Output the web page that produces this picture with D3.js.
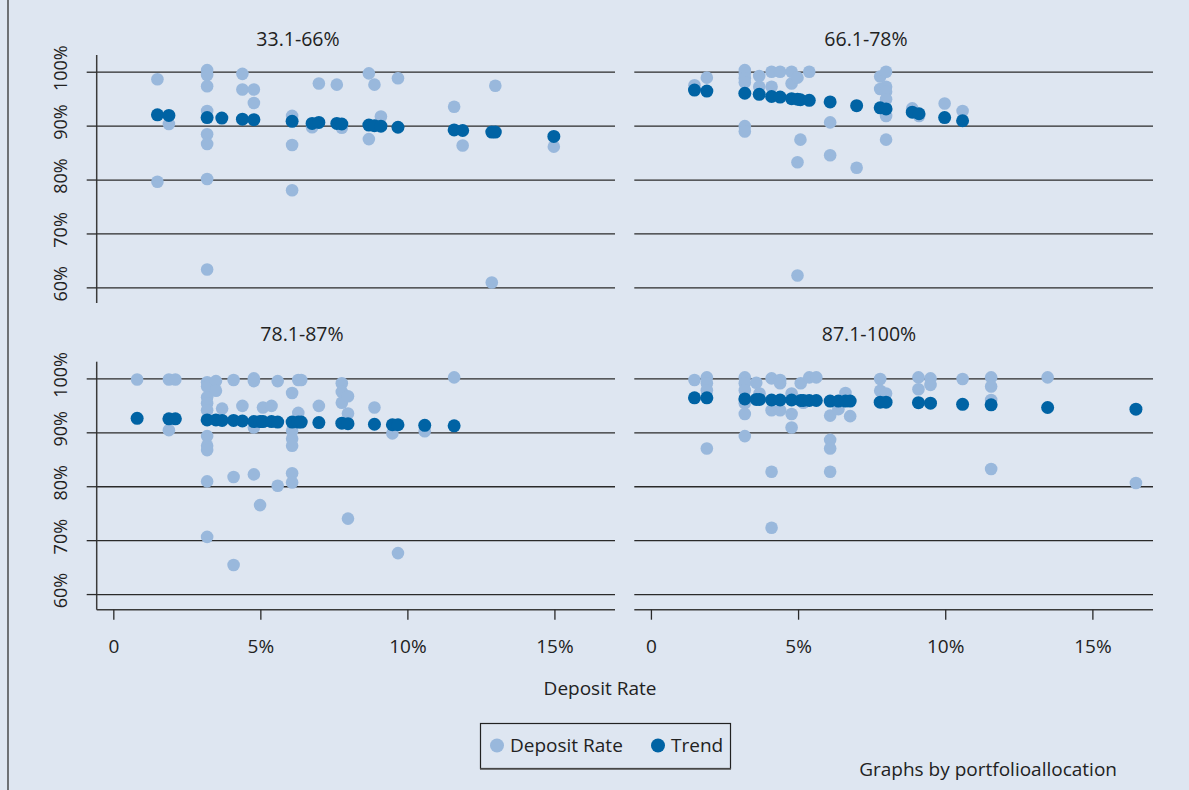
<!DOCTYPE html>
<html><head><meta charset="utf-8">
<script src="https://cdn.jsdelivr.net/npm/d3@7/dist/d3.min.js"></script>
<style>
html,body{margin:0;padding:0;background:#dee6f1;}
svg{display:block;}
text{font-family:"Open Sans","Noto Sans",sans-serif;fill:#222;}
</style></head>
<body>
<svg id="chart" width="1189" height="790"></svg>
<script>
// ---------- data ----------
const panelTitles = ["33.1-66%", "66.1-78%", "78.1-87%", "87.1-100%"];
const xTickValues = [0, 5, 10, 15];
const yTickValues = [60, 70, 80, 90, 100];
const legendLabels = ["Deposit Rate", "Trend"];
const noteText = "Graphs by portfolioallocation";
const xAxisTitle = "Deposit Rate";

// panel 1: 33.1-66%
const p1Rate = [1.50,1.50,1.89,3.19,3.19,3.19,3.19,3.19,3.19,3.19,3.19,4.39,4.39,4.78,4.78,6.08,6.08,6.08,6.76,6.99,7.60,7.77,8.69,8.88,8.69,9.10,9.68,11.59,11.88,12.99,12.87,14.98];
const p1Share = [98.6,79.6,90.3,100.3,99.4,97.3,92.7,88.4,86.6,80.1,63.3,99.6,96.7,96.7,94.2,91.8,86.4,78.0,89.7,97.8,97.6,89.6,99.7,97.6,87.5,91.7,98.8,93.5,86.3,97.4,60.9,86.1];
const p1TrendRate = [1.50,1.89,3.19,3.69,4.39,4.78,6.08,6.76,6.99,7.60,7.77,8.69,8.88,9.10,9.68,11.59,11.88,12.87,12.99,14.98];
const p1Trend = [92.0,91.9,91.5,91.4,91.2,91.1,90.8,90.4,90.6,90.4,90.3,90.1,90.0,89.9,89.7,89.2,89.1,88.8,88.8,88.0];

// panel 2: 66.1-78%
const p2Rate = [1.48,1.90,3.19,3.19,3.19,3.19,3.19,3.19,3.68,3.68,4.10,4.10,4.39,4.78,4.78,4.98,5.08,4.98,4.98,5.38,6.09,6.09,6.99,7.79,7.99,7.79,7.99,7.99,7.99,7.99,7.99,8.88,9.11,9.98,10.59];
const p2Share = [97.5,98.9,100.3,99.7,98.8,98.0,89.9,88.9,99.2,97.2,100.0,97.2,100.0,100.0,97.8,98.9,87.4,83.2,62.2,100.0,90.6,84.5,82.2,99.1,100.0,96.8,97.2,96.3,94.9,91.8,87.4,93.2,91.8,94.1,92.7];
const p2TrendRate = [1.48,1.90,3.19,3.68,4.10,4.39,4.78,4.98,5.08,5.38,6.09,6.99,7.79,7.99,8.88,9.11,9.98,10.59];
const p2Trend = [96.6,96.4,96.0,95.8,95.4,95.3,95.0,94.9,94.8,94.7,94.4,93.7,93.3,93.1,92.5,92.2,91.5,90.9];

// panel 3: 78.1-87%
const p3Rate = [0.81,1.89,2.11,1.89,3.19,3.19,3.19,3.19,3.19,3.19,3.19,3.19,3.19,3.19,3.49,3.49,3.70,4.09,4.09,4.09,4.39,4.78,4.78,4.78,4.78,4.99,5.09,5.38,5.59,5.59,6.08,6.08,6.08,6.08,6.08,6.08,6.29,6.39,6.29,6.99,7.77,7.77,7.77,7.98,7.98,7.98,8.88,9.49,9.68,10.59,11.59];
const p3Share = [99.8,99.8,99.8,90.4,99.3,98.5,96.5,95.4,94.1,89.3,87.5,86.7,80.9,70.6,99.5,97.7,94.4,99.7,81.7,65.4,94.9,100.0,99.5,90.9,82.2,76.5,94.6,94.9,99.5,80.1,97.3,90.3,88.8,87.5,82.4,80.7,99.7,99.7,93.6,94.9,99.1,97.5,95.5,96.7,93.5,74.0,94.6,89.8,67.6,90.2,100.2];
const p3TrendRate = [0.81,1.89,2.11,3.19,3.49,3.70,4.09,4.39,4.78,4.99,5.09,5.38,5.59,6.08,6.29,6.39,6.99,7.77,7.98,8.88,9.49,9.68,10.59,11.59];
const p3Trend = [92.6,92.5,92.5,92.3,92.3,92.2,92.2,92.1,92.0,92.0,92.0,92.0,91.9,91.9,91.9,91.9,91.8,91.7,91.6,91.5,91.4,91.4,91.3,91.2];

// panel 4: 87.1-100%
const p4Rate = [1.48,1.90,1.90,1.90,1.90,3.19,3.19,3.19,3.19,3.19,3.19,3.58,3.69,4.10,4.10,4.10,4.10,4.39,4.39,4.39,4.78,4.78,4.78,5.09,5.18,5.38,5.62,6.09,6.09,6.09,6.09,6.37,6.61,6.77,7.79,7.79,7.99,9.09,9.09,9.50,9.50,10.59,11.56,11.56,11.56,11.56,13.48,16.48];
const p4Share = [99.7,100.2,99.1,97.8,87.0,100.2,99.1,97.8,95.4,93.4,89.3,99.2,97.2,100.0,94.1,82.7,72.3,99.7,99.1,94.1,97.2,93.4,90.9,99.1,95.5,100.2,100.2,93.1,88.6,87.0,82.7,94.3,97.3,93.0,99.9,97.7,97.2,100.2,98.0,100.0,98.8,99.9,100.2,98.5,96.0,83.2,100.2,80.6];
const p4TrendRate = [1.48,1.90,3.19,3.58,3.69,4.10,4.39,4.78,5.09,5.18,5.38,5.62,6.09,6.37,6.61,6.77,7.79,7.99,9.09,9.50,10.59,11.56,13.48,16.48];
const p4Trend = [96.4,96.4,96.2,96.1,96.1,96.0,96.0,96.0,95.9,95.9,95.9,95.9,95.8,95.8,95.8,95.8,95.6,95.6,95.5,95.4,95.2,95.1,94.6,94.3];

// ---------- layout ----------
const svg = d3.select("#chart");
const W = 1189, H = 790;
const lightCol = "#99b8dc", darkCol = "#0063a4";
const font = '"Open Sans","Noto Sans",sans-serif';

svg.append("rect").attr("width", W).attr("height", H).attr("fill", "#dee6f1");
svg.append("line").attr("x1", 8).attr("x2", 8).attr("y1", 0).attr("y2", H)
  .attr("stroke", "#222").attr("stroke-width", 1.2);

const panels = [
  {title: panelTitles[0], rate: p1Rate, share: p1Share, tRate: p1TrendRate, trend: p1Trend, x0: 96.7, x1: 615, y0: 55, y1: 303, left: true, bottom: false, tx: 298, ty: 46},
  {title: panelTitles[1], rate: p2Rate, share: p2Share, tRate: p2TrendRate, trend: p2Trend, x0: 634.3, x1: 1153, y0: 55, y1: 303, left: false, bottom: false, tx: 866, ty: 46},
  {title: panelTitles[2], rate: p3Rate, share: p3Share, tRate: p3TrendRate, trend: p3Trend, x0: 96.7, x1: 615, y0: 361.7, y1: 609.7, left: true, bottom: true, tx: 302, ty: 341},
  {title: panelTitles[3], rate: p4Rate, share: p4Share, tRate: p4TrendRate, trend: p4Trend, x0: 634.3, x1: 1153, y0: 361.7, y1: 609.7, left: false, bottom: true, tx: 869, ty: 341}
];

panels.forEach(p => {
  const x = d3.scaleLinear().domain([-0.565, 17.06]).range([p.x0, p.x1]);
  const y = d3.scaleLinear().domain([57.1, 103.1]).range([p.y1, p.y0]);
  const g = svg.append("g");

  // gridlines
  const grid = g.append("g").attr("transform", `translate(${p.x0},0)`)
    .call(d3.axisLeft(y).tickValues(yTickValues).tickSize(-(p.x1 - p.x0)).tickFormat(""));
  grid.select(".domain").remove();
  grid.selectAll("line").attr("stroke", "#2a2a2a").attr("stroke-width", 1.3);

  if (p.left) {
    const ya = g.append("g").attr("transform", `translate(${p.x0},0)`)
      .call(d3.axisLeft(y).tickValues(yTickValues).tickSize(10).tickPadding(0)
        .tickFormat(d => d + "%"));
    ya.select(".domain").attr("stroke", "#3a3a3a").attr("stroke-width", 1.5)
      .attr("d", `M0,${p.y0}V${p.y1}`);
    ya.selectAll(".tick line").attr("stroke", "#2a2a2a").attr("stroke-width", 1.3);
    ya.selectAll(".tick text")
      .attr("x", 0).attr("dy", 0)
      .attr("transform", "translate(-30,-4) rotate(-90)")
      .attr("text-anchor", "middle")
      .style("font-family", font).style("font-size", "18px").attr("fill", "#222");
  }

  if (p.bottom) {
    const xa = g.append("g").attr("transform", `translate(0,${p.y1})`)
      .call(d3.axisBottom(x).tickValues(xTickValues).tickSize(10).tickPadding(20)
        .tickFormat(d => d === 0 ? "0" : d + "%"));
    xa.select(".domain").attr("stroke", "#3a3a3a").attr("stroke-width", 1.5)
      .attr("d", `M${p.x0},0H${p.x1}`);
    xa.selectAll(".tick line").attr("stroke", "#2a2a2a").attr("stroke-width", 1.3);
    xa.selectAll(".tick text").style("font-family", font).style("font-size", "19px").attr("fill", "#222");
  }

  // title
  g.append("text").attr("x", p.tx).attr("y", p.ty).attr("text-anchor", "middle")
    .style("font-size", "19.5px").text(p.title);

  // points
  g.append("g").selectAll("circle").data(p.rate.map((r, i) => [r, p.share[i]]))
    .join("circle").attr("cx", d => x(d[0])).attr("cy", d => y(d[1]))
    .attr("r", 6.3).attr("fill", lightCol);
  g.append("g").selectAll("circle").data(p.tRate.map((r, i) => [r, p.trend[i]]))
    .join("circle").attr("cx", d => x(d[0])).attr("cy", d => y(d[1]))
    .attr("r", 6.5).attr("fill", darkCol);
});

// x axis title
svg.append("text").attr("x", 600).attr("y", 695).attr("text-anchor", "middle")
  .style("font-size", "19px").text(xAxisTitle);

// legend
const lg = svg.append("g");
lg.append("rect").attr("x", 480.5).attr("y", 723.5).attr("width", 250).attr("height", 45)
  .attr("fill", "#dee6f1").attr("stroke", "#222").attr("stroke-width", 1.2);
lg.append("line").attr("x1", 480).attr("x2", 731).attr("y1", 769).attr("y2", 769)
  .attr("stroke", "#555").attr("stroke-width", 1.5);
const legendItems = [{label: legendLabels[0], col: lightCol, cx: 497, tx: 510},
                     {label: legendLabels[1], col: darkCol, cx: 658, tx: 671}];
legendItems.forEach(it => {
  lg.append("circle").attr("cx", it.cx).attr("cy", 745.5).attr("r", 7).attr("fill", it.col);
  lg.append("text").attr("x", it.tx).attr("y", 752).style("font-size", "19px").text(it.label);
});

// note
svg.append("text").attr("x", 1117).attr("y", 776).attr("text-anchor", "end")
  .style("font-size", "19px").text(noteText);
</script>
</body></html>
